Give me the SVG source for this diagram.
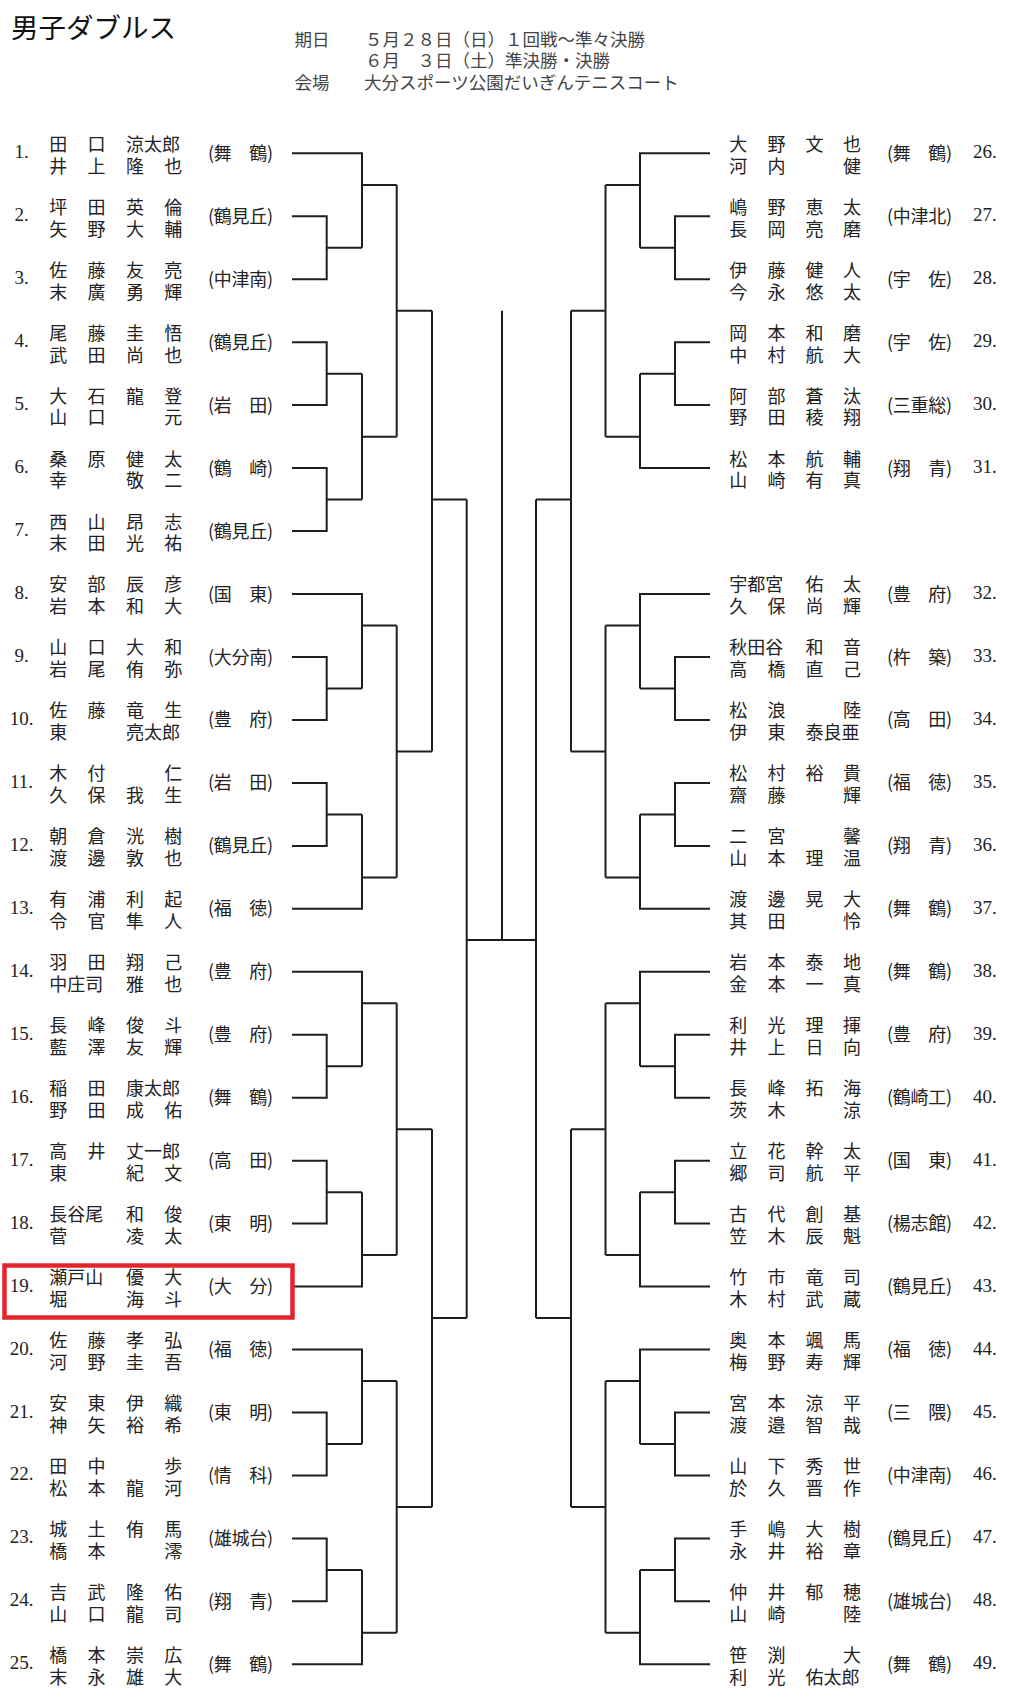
<svg xmlns="http://www.w3.org/2000/svg" width="1027" height="1695" viewBox="0 0 1027 1695">
<style>
.bg{fill:#fff}
.ln{fill:none;stroke:#1e1e1e;stroke-width:2}
.n{font-family:"Liberation Serif","Noto Sans CJK JP",serif;font-size:19px;fill:#222}
.nl{text-anchor:middle}
.k{font-family:"Noto Sans CJK JP",sans-serif;font-size:18px;fill:#222}
.h{font-family:"Noto Sans CJK JP",sans-serif;font-size:17.5px;fill:#444}
.t{font-family:"Noto Sans CJK JP",sans-serif;font-size:27.5px;fill:#111}
.box{fill:none;stroke:#e3242b;stroke-width:4.5}
</style>
<rect class="bg" x="0" y="0" width="1027" height="1695"/>
<g id="header">
<text class="t" x="11" y="37.5">男子ダブルス</text>
<text class="h"><tspan x="294.5" y="45.5">期日</tspan><tspan x="365" y="45.5">５月２８日（日）１回戦～準々決勝</tspan><tspan x="365" y="67">６月　３日（土）準決勝・決勝</tspan><tspan x="294.5" y="89">会場</tspan><tspan x="364" y="89">大分スポーツ公園だいぎんテニスコート</tspan></text>
</g>
<g id="connectors" class="ln">
<path d="M292 153.3H362V247.8M292 216.3H326.7V279.2H292M326.7 247.8H362M362 185H396.7"/>
<path d="M292 342.2H326.7V405.1H292M326.7 373.7H362M292 468.1H326.7V531.1H292M326.7 499.6H362M362 373.7V499.6M362 436.7H396.7"/>
<path d="M396.7 185V436.7M396.7 310.8H432"/>
<path d="M292 594H362V688.5M292 657H326.7V719.9H292M326.7 688.5H362M362 625.5H396.7"/>
<path d="M292 782.9H326.7V845.9H292M326.7 814.4H362M292 908.8H362V814.4M362 877.4H396.7"/>
<path d="M396.7 625.5V877.4M396.7 751.5H432M432 310.8V751.5M432 499.6H466.7"/>
<path d="M292 971.8H362V1066.2M292 1034.7H326.7V1097.7H292M326.7 1066.2H362M362 1003.3H396.7"/>
<path d="M292 1160.7H326.7V1223.6H292M326.7 1192.2H362M292 1286.6H362V1192.2M362 1255.1H396.7"/>
<path d="M396.7 1003.3V1255.1M396.7 1129.2H432"/>
<path d="M292 1349.5H362V1444M292 1412.5H326.7V1475.4H292M326.7 1444H362M362 1381H396.7"/>
<path d="M292 1538.4H326.7V1601.3H292M326.7 1569.9H362M292 1664.3H362V1569.9M362 1632.8H396.7"/>
<path d="M396.7 1381V1632.8M396.7 1506.9H432M432 1129.2V1506.9M432 1318.1H466.7"/>
<path d="M466.7 499.6V1318.1M466.7 940H536M502 310.8V940"/>
<path d="M710 153.3H640V247.8M710 216.3H675V279.2H710M675 247.8H640M640 185H605.5"/>
<path d="M710 342.2H675V405.1H710M675 373.7H640M710 468.1H640V373.7M640 436.7H605.5"/>
<path d="M605.5 185V436.7M605.5 310.8H571"/>
<path d="M710 594H640V688.5M710 657H675V719.9H710M675 688.5H640M640 625.5H605.5"/>
<path d="M710 782.9H675V845.9H710M675 814.4H640M710 908.8H640V814.4M640 877.4H605.5"/>
<path d="M605.5 625.5V877.4M605.5 751.5H571M571 310.8V751.5M571 499.6H536"/>
<path d="M710 971.8H640V1066.2M710 1034.7H675V1097.7H710M675 1066.2H640M640 1003.3H605.5"/>
<path d="M710 1160.7H675V1223.6H710M675 1192.2H640M710 1286.6H640V1192.2M640 1255.1H605.5"/>
<path d="M605.5 1003.3V1255.1M605.5 1129.2H571"/>
<path d="M710 1349.5H640V1444M710 1412.5H675V1475.4H710M675 1444H640M640 1381H605.5"/>
<path d="M710 1538.4H675V1601.3H710M675 1569.9H640M710 1664.3H640V1569.9M640 1632.8H605.5"/>
<path d="M605.5 1381V1632.8M605.5 1506.9H571M571 1129.2V1506.9M571 1318.1H536"/>
<path d="M536 499.6V1318.1"/>
</g>
<rect class="box" x="4.5" y="1265.5" width="288" height="52"/>

<g id="p1" transform="translate(0,153.3)"><text class="n nl" x="21.5" y="5">1.</text><text class="k"><tspan x="49.3" y="-2.6">田</tspan><tspan x="87.6" y="-2.6">口</tspan><tspan x="126" y="-2.6">涼太郎</tspan><tspan x="49.3" y="19.3">井</tspan><tspan x="87.6" y="19.3">上</tspan><tspan x="126" y="19.3">隆</tspan><tspan x="164.3" y="19.3">也</tspan></text><text class="k" x="208" y="6.5" textLength="65" lengthAdjust="spacing">(舞　鶴)</text></g>
<g id="p2" transform="translate(0,216.3)"><text class="n nl" x="21.5" y="5">2.</text><text class="k"><tspan x="49.3" y="-2.6">坪</tspan><tspan x="87.6" y="-2.6">田</tspan><tspan x="126" y="-2.6">英</tspan><tspan x="164.3" y="-2.6">倫</tspan><tspan x="49.3" y="19.3">矢</tspan><tspan x="87.6" y="19.3">野</tspan><tspan x="126" y="19.3">大</tspan><tspan x="164.3" y="19.3">輔</tspan></text><text class="k" x="208" y="6.5" textLength="65" lengthAdjust="spacing">(鶴見丘)</text></g>
<g id="p3" transform="translate(0,279.2)"><text class="n nl" x="21.5" y="5">3.</text><text class="k"><tspan x="49.3" y="-2.6">佐</tspan><tspan x="87.6" y="-2.6">藤</tspan><tspan x="126" y="-2.6">友</tspan><tspan x="164.3" y="-2.6">亮</tspan><tspan x="49.3" y="19.3">末</tspan><tspan x="87.6" y="19.3">廣</tspan><tspan x="126" y="19.3">勇</tspan><tspan x="164.3" y="19.3">輝</tspan></text><text class="k" x="208" y="6.5" textLength="65" lengthAdjust="spacing">(中津南)</text></g>
<g id="p4" transform="translate(0,342.2)"><text class="n nl" x="21.5" y="5">4.</text><text class="k"><tspan x="49.3" y="-2.6">尾</tspan><tspan x="87.6" y="-2.6">藤</tspan><tspan x="126" y="-2.6">圭</tspan><tspan x="164.3" y="-2.6">悟</tspan><tspan x="49.3" y="19.3">武</tspan><tspan x="87.6" y="19.3">田</tspan><tspan x="126" y="19.3">尚</tspan><tspan x="164.3" y="19.3">也</tspan></text><text class="k" x="208" y="6.5" textLength="65" lengthAdjust="spacing">(鶴見丘)</text></g>
<g id="p5" transform="translate(0,405.1)"><text class="n nl" x="21.5" y="5">5.</text><text class="k"><tspan x="49.3" y="-2.6">大</tspan><tspan x="87.6" y="-2.6">石</tspan><tspan x="126" y="-2.6">龍</tspan><tspan x="164.3" y="-2.6">登</tspan><tspan x="49.3" y="19.3">山</tspan><tspan x="87.6" y="19.3">口</tspan><tspan x="164.3" y="19.3">元</tspan></text><text class="k" x="208" y="6.5" textLength="65" lengthAdjust="spacing">(岩　田)</text></g>
<g id="p6" transform="translate(0,468.1)"><text class="n nl" x="21.5" y="5">6.</text><text class="k"><tspan x="49.3" y="-2.6">桑</tspan><tspan x="87.6" y="-2.6">原</tspan><tspan x="126" y="-2.6">健</tspan><tspan x="164.3" y="-2.6">太</tspan><tspan x="49.3" y="19.3">幸</tspan><tspan x="126" y="19.3">敬</tspan><tspan x="164.3" y="19.3">二</tspan></text><text class="k" x="208" y="6.5" textLength="65" lengthAdjust="spacing">(鶴　崎)</text></g>
<g id="p7" transform="translate(0,531.1)"><text class="n nl" x="21.5" y="5">7.</text><text class="k"><tspan x="49.3" y="-2.6">西</tspan><tspan x="87.6" y="-2.6">山</tspan><tspan x="126" y="-2.6">昂</tspan><tspan x="164.3" y="-2.6">志</tspan><tspan x="49.3" y="19.3">末</tspan><tspan x="87.6" y="19.3">田</tspan><tspan x="126" y="19.3">光</tspan><tspan x="164.3" y="19.3">祐</tspan></text><text class="k" x="208" y="6.5" textLength="65" lengthAdjust="spacing">(鶴見丘)</text></g>
<g id="p8" transform="translate(0,594)"><text class="n nl" x="21.5" y="5">8.</text><text class="k"><tspan x="49.3" y="-2.6">安</tspan><tspan x="87.6" y="-2.6">部</tspan><tspan x="126" y="-2.6">辰</tspan><tspan x="164.3" y="-2.6">彦</tspan><tspan x="49.3" y="19.3">岩</tspan><tspan x="87.6" y="19.3">本</tspan><tspan x="126" y="19.3">和</tspan><tspan x="164.3" y="19.3">大</tspan></text><text class="k" x="208" y="6.5" textLength="65" lengthAdjust="spacing">(国　東)</text></g>
<g id="p9" transform="translate(0,657)"><text class="n nl" x="21.5" y="5">9.</text><text class="k"><tspan x="49.3" y="-2.6">山</tspan><tspan x="87.6" y="-2.6">口</tspan><tspan x="126" y="-2.6">大</tspan><tspan x="164.3" y="-2.6">和</tspan><tspan x="49.3" y="19.3">岩</tspan><tspan x="87.6" y="19.3">尾</tspan><tspan x="126" y="19.3">侑</tspan><tspan x="164.3" y="19.3">弥</tspan></text><text class="k" x="208" y="6.5" textLength="65" lengthAdjust="spacing">(大分南)</text></g>
<g id="p10" transform="translate(0,719.9)"><text class="n nl" x="21.5" y="5">10.</text><text class="k"><tspan x="49.3" y="-2.6">佐</tspan><tspan x="87.6" y="-2.6">藤</tspan><tspan x="126" y="-2.6">竜</tspan><tspan x="164.3" y="-2.6">生</tspan><tspan x="49.3" y="19.3">東</tspan><tspan x="126" y="19.3">亮太郎</tspan></text><text class="k" x="208" y="6.5" textLength="65" lengthAdjust="spacing">(豊　府)</text></g>
<g id="p11" transform="translate(0,782.9)"><text class="n nl" x="21.5" y="5">11.</text><text class="k"><tspan x="49.3" y="-2.6">木</tspan><tspan x="87.6" y="-2.6">付</tspan><tspan x="164.3" y="-2.6">仁</tspan><tspan x="49.3" y="19.3">久</tspan><tspan x="87.6" y="19.3">保</tspan><tspan x="126" y="19.3">我</tspan><tspan x="164.3" y="19.3">生</tspan></text><text class="k" x="208" y="6.5" textLength="65" lengthAdjust="spacing">(岩　田)</text></g>
<g id="p12" transform="translate(0,845.9)"><text class="n nl" x="21.5" y="5">12.</text><text class="k"><tspan x="49.3" y="-2.6">朝</tspan><tspan x="87.6" y="-2.6">倉</tspan><tspan x="126" y="-2.6">洸</tspan><tspan x="164.3" y="-2.6">樹</tspan><tspan x="49.3" y="19.3">渡</tspan><tspan x="87.6" y="19.3">邊</tspan><tspan x="126" y="19.3">敦</tspan><tspan x="164.3" y="19.3">也</tspan></text><text class="k" x="208" y="6.5" textLength="65" lengthAdjust="spacing">(鶴見丘)</text></g>
<g id="p13" transform="translate(0,908.8)"><text class="n nl" x="21.5" y="5">13.</text><text class="k"><tspan x="49.3" y="-2.6">有</tspan><tspan x="87.6" y="-2.6">浦</tspan><tspan x="126" y="-2.6">利</tspan><tspan x="164.3" y="-2.6">起</tspan><tspan x="49.3" y="19.3">令</tspan><tspan x="87.6" y="19.3">官</tspan><tspan x="126" y="19.3">隼</tspan><tspan x="164.3" y="19.3">人</tspan></text><text class="k" x="208" y="6.5" textLength="65" lengthAdjust="spacing">(福　徳)</text></g>
<g id="p14" transform="translate(0,971.8)"><text class="n nl" x="21.5" y="5">14.</text><text class="k"><tspan x="49.3" y="-2.6">羽</tspan><tspan x="87.6" y="-2.6">田</tspan><tspan x="126" y="-2.6">翔</tspan><tspan x="164.3" y="-2.6">己</tspan><tspan x="49.3" y="19.3">中庄司</tspan><tspan x="126" y="19.3">雅</tspan><tspan x="164.3" y="19.3">也</tspan></text><text class="k" x="208" y="6.5" textLength="65" lengthAdjust="spacing">(豊　府)</text></g>
<g id="p15" transform="translate(0,1034.7)"><text class="n nl" x="21.5" y="5">15.</text><text class="k"><tspan x="49.3" y="-2.6">長</tspan><tspan x="87.6" y="-2.6">峰</tspan><tspan x="126" y="-2.6">俊</tspan><tspan x="164.3" y="-2.6">斗</tspan><tspan x="49.3" y="19.3">藍</tspan><tspan x="87.6" y="19.3">澤</tspan><tspan x="126" y="19.3">友</tspan><tspan x="164.3" y="19.3">輝</tspan></text><text class="k" x="208" y="6.5" textLength="65" lengthAdjust="spacing">(豊　府)</text></g>
<g id="p16" transform="translate(0,1097.7)"><text class="n nl" x="21.5" y="5">16.</text><text class="k"><tspan x="49.3" y="-2.6">稲</tspan><tspan x="87.6" y="-2.6">田</tspan><tspan x="126" y="-2.6">康太郎</tspan><tspan x="49.3" y="19.3">野</tspan><tspan x="87.6" y="19.3">田</tspan><tspan x="126" y="19.3">成</tspan><tspan x="164.3" y="19.3">佑</tspan></text><text class="k" x="208" y="6.5" textLength="65" lengthAdjust="spacing">(舞　鶴)</text></g>
<g id="p17" transform="translate(0,1160.7)"><text class="n nl" x="21.5" y="5">17.</text><text class="k"><tspan x="49.3" y="-2.6">高</tspan><tspan x="87.6" y="-2.6">井</tspan><tspan x="126" y="-2.6">丈一郎</tspan><tspan x="49.3" y="19.3">東</tspan><tspan x="126" y="19.3">紀</tspan><tspan x="164.3" y="19.3">文</tspan></text><text class="k" x="208" y="6.5" textLength="65" lengthAdjust="spacing">(高　田)</text></g>
<g id="p18" transform="translate(0,1223.6)"><text class="n nl" x="21.5" y="5">18.</text><text class="k"><tspan x="49.3" y="-2.6">長谷尾</tspan><tspan x="126" y="-2.6">和</tspan><tspan x="164.3" y="-2.6">俊</tspan><tspan x="49.3" y="19.3">菅</tspan><tspan x="126" y="19.3">凌</tspan><tspan x="164.3" y="19.3">太</tspan></text><text class="k" x="208" y="6.5" textLength="65" lengthAdjust="spacing">(東　明)</text></g>
<g id="p19" transform="translate(0,1286.6)"><text class="n nl" x="21.5" y="5">19.</text><text class="k"><tspan x="49.3" y="-2.6">瀬戸山</tspan><tspan x="126" y="-2.6">優</tspan><tspan x="164.3" y="-2.6">大</tspan><tspan x="49.3" y="19.3">堀</tspan><tspan x="126" y="19.3">海</tspan><tspan x="164.3" y="19.3">斗</tspan></text><text class="k" x="208" y="6.5" textLength="65" lengthAdjust="spacing">(大　分)</text></g>
<g id="p20" transform="translate(0,1349.5)"><text class="n nl" x="21.5" y="5">20.</text><text class="k"><tspan x="49.3" y="-2.6">佐</tspan><tspan x="87.6" y="-2.6">藤</tspan><tspan x="126" y="-2.6">孝</tspan><tspan x="164.3" y="-2.6">弘</tspan><tspan x="49.3" y="19.3">河</tspan><tspan x="87.6" y="19.3">野</tspan><tspan x="126" y="19.3">圭</tspan><tspan x="164.3" y="19.3">吾</tspan></text><text class="k" x="208" y="6.5" textLength="65" lengthAdjust="spacing">(福　徳)</text></g>
<g id="p21" transform="translate(0,1412.5)"><text class="n nl" x="21.5" y="5">21.</text><text class="k"><tspan x="49.3" y="-2.6">安</tspan><tspan x="87.6" y="-2.6">東</tspan><tspan x="126" y="-2.6">伊</tspan><tspan x="164.3" y="-2.6">織</tspan><tspan x="49.3" y="19.3">神</tspan><tspan x="87.6" y="19.3">矢</tspan><tspan x="126" y="19.3">裕</tspan><tspan x="164.3" y="19.3">希</tspan></text><text class="k" x="208" y="6.5" textLength="65" lengthAdjust="spacing">(東　明)</text></g>
<g id="p22" transform="translate(0,1475.4)"><text class="n nl" x="21.5" y="5">22.</text><text class="k"><tspan x="49.3" y="-2.6">田</tspan><tspan x="87.6" y="-2.6">中</tspan><tspan x="164.3" y="-2.6">歩</tspan><tspan x="49.3" y="19.3">松</tspan><tspan x="87.6" y="19.3">本</tspan><tspan x="126" y="19.3">龍</tspan><tspan x="164.3" y="19.3">河</tspan></text><text class="k" x="208" y="6.5" textLength="65" lengthAdjust="spacing">(情　科)</text></g>
<g id="p23" transform="translate(0,1538.4)"><text class="n nl" x="21.5" y="5">23.</text><text class="k"><tspan x="49.3" y="-2.6">城</tspan><tspan x="87.6" y="-2.6">土</tspan><tspan x="126" y="-2.6">侑</tspan><tspan x="164.3" y="-2.6">馬</tspan><tspan x="49.3" y="19.3">橋</tspan><tspan x="87.6" y="19.3">本</tspan><tspan x="164.3" y="19.3">澪</tspan></text><text class="k" x="208" y="6.5" textLength="65" lengthAdjust="spacing">(雄城台)</text></g>
<g id="p24" transform="translate(0,1601.3)"><text class="n nl" x="21.5" y="5">24.</text><text class="k"><tspan x="49.3" y="-2.6">吉</tspan><tspan x="87.6" y="-2.6">武</tspan><tspan x="126" y="-2.6">隆</tspan><tspan x="164.3" y="-2.6">佑</tspan><tspan x="49.3" y="19.3">山</tspan><tspan x="87.6" y="19.3">口</tspan><tspan x="126" y="19.3">龍</tspan><tspan x="164.3" y="19.3">司</tspan></text><text class="k" x="208" y="6.5" textLength="65" lengthAdjust="spacing">(翔　青)</text></g>
<g id="p25" transform="translate(0,1664.3)"><text class="n nl" x="21.5" y="5">25.</text><text class="k"><tspan x="49.3" y="-2.6">橋</tspan><tspan x="87.6" y="-2.6">本</tspan><tspan x="126" y="-2.6">崇</tspan><tspan x="164.3" y="-2.6">広</tspan><tspan x="49.3" y="19.3">末</tspan><tspan x="87.6" y="19.3">永</tspan><tspan x="126" y="19.3">雄</tspan><tspan x="164.3" y="19.3">大</tspan></text><text class="k" x="208" y="6.5" textLength="65" lengthAdjust="spacing">(舞　鶴)</text></g>

<g id="p26" transform="translate(0,153.3)"><text class="k"><tspan x="729.3" y="-2.6">大</tspan><tspan x="767.6" y="-2.6">野</tspan><tspan x="805.5" y="-2.6">文</tspan><tspan x="843" y="-2.6">也</tspan><tspan x="729.3" y="19.3">河</tspan><tspan x="767.6" y="19.3">内</tspan><tspan x="843" y="19.3">健</tspan></text><text class="k" x="887" y="6.5" textLength="65" lengthAdjust="spacing">(舞　鶴)</text><text class="n" x="973" y="5">26.</text></g>
<g id="p27" transform="translate(0,216.3)"><text class="k"><tspan x="729.3" y="-2.6">嶋</tspan><tspan x="767.6" y="-2.6">野</tspan><tspan x="805.5" y="-2.6">恵</tspan><tspan x="843" y="-2.6">太</tspan><tspan x="729.3" y="19.3">長</tspan><tspan x="767.6" y="19.3">岡</tspan><tspan x="805.5" y="19.3">亮</tspan><tspan x="843" y="19.3">磨</tspan></text><text class="k" x="887" y="6.5" textLength="65" lengthAdjust="spacing">(中津北)</text><text class="n" x="973" y="5">27.</text></g>
<g id="p28" transform="translate(0,279.2)"><text class="k"><tspan x="729.3" y="-2.6">伊</tspan><tspan x="767.6" y="-2.6">藤</tspan><tspan x="805.5" y="-2.6">健</tspan><tspan x="843" y="-2.6">人</tspan><tspan x="729.3" y="19.3">今</tspan><tspan x="767.6" y="19.3">永</tspan><tspan x="805.5" y="19.3">悠</tspan><tspan x="843" y="19.3">太</tspan></text><text class="k" x="887" y="6.5" textLength="65" lengthAdjust="spacing">(宇　佐)</text><text class="n" x="973" y="5">28.</text></g>
<g id="p29" transform="translate(0,342.2)"><text class="k"><tspan x="729.3" y="-2.6">岡</tspan><tspan x="767.6" y="-2.6">本</tspan><tspan x="805.5" y="-2.6">和</tspan><tspan x="843" y="-2.6">磨</tspan><tspan x="729.3" y="19.3">中</tspan><tspan x="767.6" y="19.3">村</tspan><tspan x="805.5" y="19.3">航</tspan><tspan x="843" y="19.3">大</tspan></text><text class="k" x="887" y="6.5" textLength="65" lengthAdjust="spacing">(宇　佐)</text><text class="n" x="973" y="5">29.</text></g>
<g id="p30" transform="translate(0,405.1)"><text class="k"><tspan x="729.3" y="-2.6">阿</tspan><tspan x="767.6" y="-2.6">部</tspan><tspan x="805.5" y="-2.6">蒼</tspan><tspan x="843" y="-2.6">汰</tspan><tspan x="729.3" y="19.3">野</tspan><tspan x="767.6" y="19.3">田</tspan><tspan x="805.5" y="19.3">稜</tspan><tspan x="843" y="19.3">翔</tspan></text><text class="k" x="887" y="6.5" textLength="65" lengthAdjust="spacing">(三重総)</text><text class="n" x="973" y="5">30.</text></g>
<g id="p31" transform="translate(0,468.1)"><text class="k"><tspan x="729.3" y="-2.6">松</tspan><tspan x="767.6" y="-2.6">本</tspan><tspan x="805.5" y="-2.6">航</tspan><tspan x="843" y="-2.6">輔</tspan><tspan x="729.3" y="19.3">山</tspan><tspan x="767.6" y="19.3">崎</tspan><tspan x="805.5" y="19.3">有</tspan><tspan x="843" y="19.3">真</tspan></text><text class="k" x="887" y="6.5" textLength="65" lengthAdjust="spacing">(翔　青)</text><text class="n" x="973" y="5">31.</text></g>
<g id="p32" transform="translate(0,594)"><text class="k"><tspan x="729.3" y="-2.6">宇都宮</tspan><tspan x="805.5" y="-2.6">佑</tspan><tspan x="843" y="-2.6">太</tspan><tspan x="729.3" y="19.3">久</tspan><tspan x="767.6" y="19.3">保</tspan><tspan x="805.5" y="19.3">尚</tspan><tspan x="843" y="19.3">輝</tspan></text><text class="k" x="887" y="6.5" textLength="65" lengthAdjust="spacing">(豊　府)</text><text class="n" x="973" y="5">32.</text></g>
<g id="p33" transform="translate(0,657)"><text class="k"><tspan x="729.3" y="-2.6">秋田谷</tspan><tspan x="805.5" y="-2.6">和</tspan><tspan x="843" y="-2.6">音</tspan><tspan x="729.3" y="19.3">高</tspan><tspan x="767.6" y="19.3">橋</tspan><tspan x="805.5" y="19.3">直</tspan><tspan x="843" y="19.3">己</tspan></text><text class="k" x="887" y="6.5" textLength="65" lengthAdjust="spacing">(杵　築)</text><text class="n" x="973" y="5">33.</text></g>
<g id="p34" transform="translate(0,719.9)"><text class="k"><tspan x="729.3" y="-2.6">松</tspan><tspan x="767.6" y="-2.6">浪</tspan><tspan x="843" y="-2.6">陸</tspan><tspan x="729.3" y="19.3">伊</tspan><tspan x="767.6" y="19.3">東</tspan><tspan x="805.5" y="19.3">泰良亜</tspan></text><text class="k" x="887" y="6.5" textLength="65" lengthAdjust="spacing">(高　田)</text><text class="n" x="973" y="5">34.</text></g>
<g id="p35" transform="translate(0,782.9)"><text class="k"><tspan x="729.3" y="-2.6">松</tspan><tspan x="767.6" y="-2.6">村</tspan><tspan x="805.5" y="-2.6">裕</tspan><tspan x="843" y="-2.6">貴</tspan><tspan x="729.3" y="19.3">齋</tspan><tspan x="767.6" y="19.3">藤</tspan><tspan x="843" y="19.3">輝</tspan></text><text class="k" x="887" y="6.5" textLength="65" lengthAdjust="spacing">(福　徳)</text><text class="n" x="973" y="5">35.</text></g>
<g id="p36" transform="translate(0,845.9)"><text class="k"><tspan x="729.3" y="-2.6">二</tspan><tspan x="767.6" y="-2.6">宮</tspan><tspan x="843" y="-2.6">馨</tspan><tspan x="729.3" y="19.3">山</tspan><tspan x="767.6" y="19.3">本</tspan><tspan x="805.5" y="19.3">理</tspan><tspan x="843" y="19.3">温</tspan></text><text class="k" x="887" y="6.5" textLength="65" lengthAdjust="spacing">(翔　青)</text><text class="n" x="973" y="5">36.</text></g>
<g id="p37" transform="translate(0,908.8)"><text class="k"><tspan x="729.3" y="-2.6">渡</tspan><tspan x="767.6" y="-2.6">邊</tspan><tspan x="805.5" y="-2.6">晃</tspan><tspan x="843" y="-2.6">大</tspan><tspan x="729.3" y="19.3">其</tspan><tspan x="767.6" y="19.3">田</tspan><tspan x="843" y="19.3">怜</tspan></text><text class="k" x="887" y="6.5" textLength="65" lengthAdjust="spacing">(舞　鶴)</text><text class="n" x="973" y="5">37.</text></g>
<g id="p38" transform="translate(0,971.8)"><text class="k"><tspan x="729.3" y="-2.6">岩</tspan><tspan x="767.6" y="-2.6">本</tspan><tspan x="805.5" y="-2.6">泰</tspan><tspan x="843" y="-2.6">地</tspan><tspan x="729.3" y="19.3">金</tspan><tspan x="767.6" y="19.3">本</tspan><tspan x="805.5" y="19.3">一</tspan><tspan x="843" y="19.3">真</tspan></text><text class="k" x="887" y="6.5" textLength="65" lengthAdjust="spacing">(舞　鶴)</text><text class="n" x="973" y="5">38.</text></g>
<g id="p39" transform="translate(0,1034.7)"><text class="k"><tspan x="729.3" y="-2.6">利</tspan><tspan x="767.6" y="-2.6">光</tspan><tspan x="805.5" y="-2.6">理</tspan><tspan x="843" y="-2.6">揮</tspan><tspan x="729.3" y="19.3">井</tspan><tspan x="767.6" y="19.3">上</tspan><tspan x="805.5" y="19.3">日</tspan><tspan x="843" y="19.3">向</tspan></text><text class="k" x="887" y="6.5" textLength="65" lengthAdjust="spacing">(豊　府)</text><text class="n" x="973" y="5">39.</text></g>
<g id="p40" transform="translate(0,1097.7)"><text class="k"><tspan x="729.3" y="-2.6">長</tspan><tspan x="767.6" y="-2.6">峰</tspan><tspan x="805.5" y="-2.6">拓</tspan><tspan x="843" y="-2.6">海</tspan><tspan x="729.3" y="19.3">茨</tspan><tspan x="767.6" y="19.3">木</tspan><tspan x="843" y="19.3">涼</tspan></text><text class="k" x="887" y="6.5" textLength="65" lengthAdjust="spacing">(鶴崎工)</text><text class="n" x="973" y="5">40.</text></g>
<g id="p41" transform="translate(0,1160.7)"><text class="k"><tspan x="729.3" y="-2.6">立</tspan><tspan x="767.6" y="-2.6">花</tspan><tspan x="805.5" y="-2.6">幹</tspan><tspan x="843" y="-2.6">太</tspan><tspan x="729.3" y="19.3">郷</tspan><tspan x="767.6" y="19.3">司</tspan><tspan x="805.5" y="19.3">航</tspan><tspan x="843" y="19.3">平</tspan></text><text class="k" x="887" y="6.5" textLength="65" lengthAdjust="spacing">(国　東)</text><text class="n" x="973" y="5">41.</text></g>
<g id="p42" transform="translate(0,1223.6)"><text class="k"><tspan x="729.3" y="-2.6">古</tspan><tspan x="767.6" y="-2.6">代</tspan><tspan x="805.5" y="-2.6">創</tspan><tspan x="843" y="-2.6">基</tspan><tspan x="729.3" y="19.3">笠</tspan><tspan x="767.6" y="19.3">木</tspan><tspan x="805.5" y="19.3">辰</tspan><tspan x="843" y="19.3">魁</tspan></text><text class="k" x="887" y="6.5" textLength="65" lengthAdjust="spacing">(楊志館)</text><text class="n" x="973" y="5">42.</text></g>
<g id="p43" transform="translate(0,1286.6)"><text class="k"><tspan x="729.3" y="-2.6">竹</tspan><tspan x="767.6" y="-2.6">市</tspan><tspan x="805.5" y="-2.6">竜</tspan><tspan x="843" y="-2.6">司</tspan><tspan x="729.3" y="19.3">木</tspan><tspan x="767.6" y="19.3">村</tspan><tspan x="805.5" y="19.3">武</tspan><tspan x="843" y="19.3">蔵</tspan></text><text class="k" x="887" y="6.5" textLength="65" lengthAdjust="spacing">(鶴見丘)</text><text class="n" x="973" y="5">43.</text></g>
<g id="p44" transform="translate(0,1349.5)"><text class="k"><tspan x="729.3" y="-2.6">奥</tspan><tspan x="767.6" y="-2.6">本</tspan><tspan x="805.5" y="-2.6">颯</tspan><tspan x="843" y="-2.6">馬</tspan><tspan x="729.3" y="19.3">梅</tspan><tspan x="767.6" y="19.3">野</tspan><tspan x="805.5" y="19.3">寿</tspan><tspan x="843" y="19.3">輝</tspan></text><text class="k" x="887" y="6.5" textLength="65" lengthAdjust="spacing">(福　徳)</text><text class="n" x="973" y="5">44.</text></g>
<g id="p45" transform="translate(0,1412.5)"><text class="k"><tspan x="729.3" y="-2.6">宮</tspan><tspan x="767.6" y="-2.6">本</tspan><tspan x="805.5" y="-2.6">涼</tspan><tspan x="843" y="-2.6">平</tspan><tspan x="729.3" y="19.3">渡</tspan><tspan x="767.6" y="19.3">邉</tspan><tspan x="805.5" y="19.3">智</tspan><tspan x="843" y="19.3">哉</tspan></text><text class="k" x="887" y="6.5" textLength="65" lengthAdjust="spacing">(三　隈)</text><text class="n" x="973" y="5">45.</text></g>
<g id="p46" transform="translate(0,1475.4)"><text class="k"><tspan x="729.3" y="-2.6">山</tspan><tspan x="767.6" y="-2.6">下</tspan><tspan x="805.5" y="-2.6">秀</tspan><tspan x="843" y="-2.6">世</tspan><tspan x="729.3" y="19.3">於</tspan><tspan x="767.6" y="19.3">久</tspan><tspan x="805.5" y="19.3">晋</tspan><tspan x="843" y="19.3">作</tspan></text><text class="k" x="887" y="6.5" textLength="65" lengthAdjust="spacing">(中津南)</text><text class="n" x="973" y="5">46.</text></g>
<g id="p47" transform="translate(0,1538.4)"><text class="k"><tspan x="729.3" y="-2.6">手</tspan><tspan x="767.6" y="-2.6">嶋</tspan><tspan x="805.5" y="-2.6">大</tspan><tspan x="843" y="-2.6">樹</tspan><tspan x="729.3" y="19.3">永</tspan><tspan x="767.6" y="19.3">井</tspan><tspan x="805.5" y="19.3">裕</tspan><tspan x="843" y="19.3">章</tspan></text><text class="k" x="887" y="6.5" textLength="65" lengthAdjust="spacing">(鶴見丘)</text><text class="n" x="973" y="5">47.</text></g>
<g id="p48" transform="translate(0,1601.3)"><text class="k"><tspan x="729.3" y="-2.6">仲</tspan><tspan x="767.6" y="-2.6">井</tspan><tspan x="805.5" y="-2.6">郁</tspan><tspan x="843" y="-2.6">穂</tspan><tspan x="729.3" y="19.3">山</tspan><tspan x="767.6" y="19.3">崎</tspan><tspan x="843" y="19.3">陸</tspan></text><text class="k" x="887" y="6.5" textLength="65" lengthAdjust="spacing">(雄城台)</text><text class="n" x="973" y="5">48.</text></g>
<g id="p49" transform="translate(0,1664.3)"><text class="k"><tspan x="729.3" y="-2.6">笹</tspan><tspan x="767.6" y="-2.6">渕</tspan><tspan x="843" y="-2.6">大</tspan><tspan x="729.3" y="19.3">利</tspan><tspan x="767.6" y="19.3">光</tspan><tspan x="805.5" y="19.3">佑太郎</tspan></text><text class="k" x="887" y="6.5" textLength="65" lengthAdjust="spacing">(舞　鶴)</text><text class="n" x="973" y="5">49.</text></g>
</svg>
